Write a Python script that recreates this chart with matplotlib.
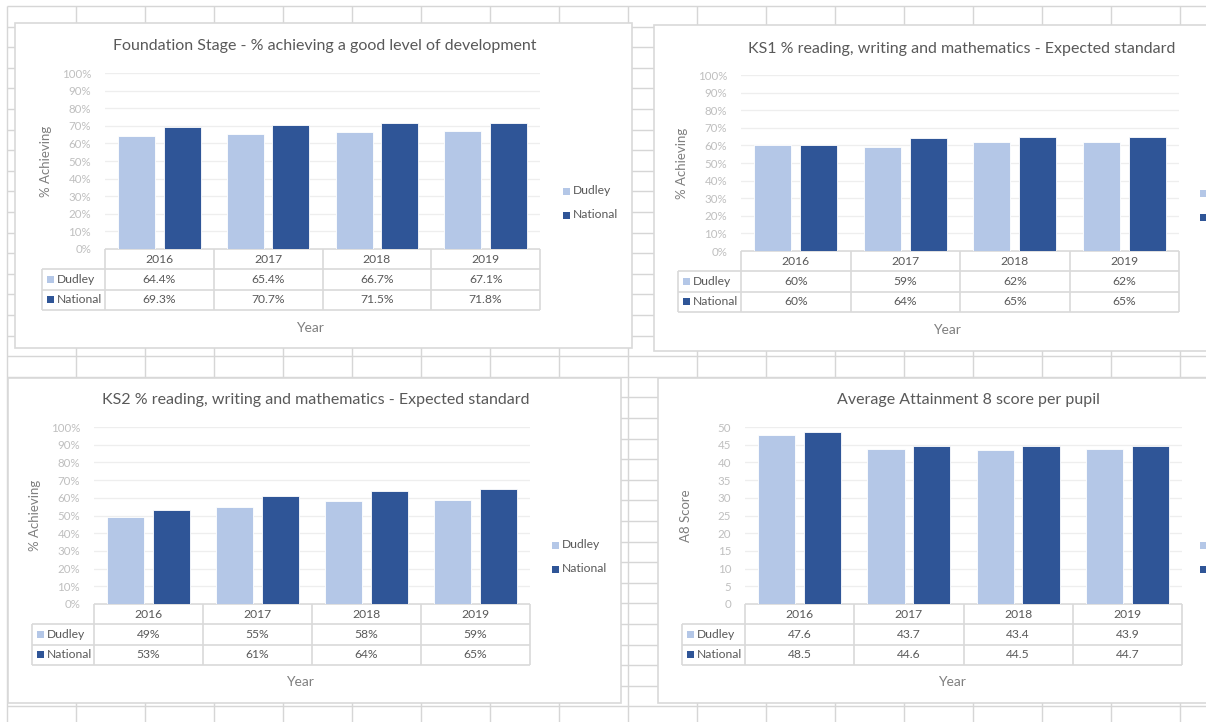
import numpy as np
import matplotlib.pyplot as plt
from matplotlib.patches import Rectangle
from matplotlib.ticker import FuncFormatter

plt.rcParams['font.family'] = ['Lato', 'DejaVu Sans']

years = ['2016', '2017', '2018', '2019']

fs_dudley = [64.4, 65.4, 66.7, 67.1]
fs_national = [69.3, 70.7, 71.5, 71.8]
ks1_dudley = [60, 59, 62, 62]
ks1_national = [60, 64, 65, 65]
ks2_dudley = [49, 55, 58, 59]
ks2_national = [53, 61, 64, 65]
a8_dudley = [47.6, 43.7, 43.4, 43.9]
a8_national = [48.5, 44.6, 44.5, 44.7]

LIGHT = '#b4c7e7'
DARK = '#2f5597'
CELL = '#d6d6d6'
BORDER = '#d9d9d9'
W, H = 1206, 722

fig = plt.figure(figsize=(W / 100, H / 100), dpi=100)
bg = fig.add_axes([0, 0, 1, 1])
bg.set_xlim(0, W)
bg.set_ylim(H, 0)
bg.axis('off')

# spreadsheet cells behind the charts
bg.vlines(np.arange(7, W, 69), 6, H, color=CELL, lw=1, zorder=1)
bg.hlines(np.arange(6, H, 20.6), 7, W, color=CELL, lw=1, zorder=1)


def chart(box, plot, tab_left, title, title_xy, ylabel, ylabel_x, year_xy,
          leg, ymax, ystep, tickfmt, valfmt, dud, nat):
    x0, y0, x1, y1 = box
    bg.add_patch(Rectangle((x0, y0), x1 - x0, y1 - y0, fc='white', ec=BORDER,
                           lw=1.2, zorder=2))
    px0, py0, px1, py1 = plot

    ax = fig.add_axes([px0 / W, 1 - py1 / H, (px1 - px0) / W, (py1 - py0) / H])
    ax.set_zorder(3)
    ax.patch.set_alpha(0)
    idx = np.arange(len(years))
    ax.bar(idx - 0.21, dud, 0.34, color=LIGHT, ec='white', lw=0.6, zorder=3)
    ax.bar(idx + 0.21, nat, 0.34, color=DARK, ec='white', lw=0.6, zorder=3)
    ax.set_xlim(-0.5, 3.5)
    ax.set_ylim(0, ymax)
    ax.set_yticks(np.arange(0, ymax + ystep / 2, ystep))
    ax.yaxis.set_major_formatter(FuncFormatter(tickfmt))
    ax.set_xticks([])
    ax.tick_params(length=0, labelsize=8.3, labelcolor='#bfbfbf', pad=10)
    ax.grid(axis='y', color='#eeeeee', lw=0.9, zorder=0)
    for s in ax.spines.values():
        s.set_visible(False)

    # data table under the plot
    rows = [py1, py1 + 20.3, py1 + 40.6, py1 + 61]
    cols = np.linspace(px0, px1, len(years) + 1)
    kw = dict(color=BORDER, lw=1.2, zorder=4)
    bg.hlines(rows[0], px0, px1, **kw)
    bg.hlines(rows[1:], tab_left, px1, **kw)
    bg.vlines(tab_left, rows[1], rows[3], **kw)
    bg.vlines(cols, rows[0], rows[3], **kw)
    tk = dict(ha='center', va='center', fontsize=8.7, color='#595959', zorder=5)
    for i, yr in enumerate(years):
        cx = (cols[i] + cols[i + 1]) / 2
        bg.text(cx, (rows[0] + rows[1]) / 2, yr, **tk)
        bg.text(cx, (rows[1] + rows[2]) / 2, valfmt(dud[i]), **tk)
        bg.text(cx, (rows[2] + rows[3]) / 2, valfmt(nat[i]), **tk)
    for r, (name, c) in enumerate([('Dudley', LIGHT), ('National', DARK)]):
        ym = (rows[r + 1] + rows[r + 2]) / 2
        bg.add_patch(Rectangle((tab_left + 5, ym - 3.5), 7, 7, fc=c, ec='none', zorder=5))
        bg.text(tab_left + 15, ym, name, ha='left', va='center', fontsize=8.7,
                color='#595959', zorder=5)

    # legend (the right-hand charts run past the window edge, only squares show)
    lx, ly1, ly2 = leg
    for name, c, ly in [('Dudley', LIGHT, ly1), ('National', DARK, ly2)]:
        bg.add_patch(Rectangle((lx, ly - 3.5), 7, 7, fc=c, ec='none', zorder=5))
        if lx + 10 < W:
            bg.text(lx + 10, ly, name, ha='left', va='center', fontsize=8.7,
                    color='#595959', zorder=5)

    bg.text(title_xy[0], title_xy[1], title, ha='center', va='center',
            fontsize=11.5, color='#595959', zorder=5)
    bg.text(ylabel_x, (py0 + py1) / 2, ylabel, rotation=90, ha='center',
            va='center', fontsize=9.5, color='#7f7f7f', zorder=5)
    bg.text(year_xy[0], year_xy[1], 'Year', ha='center', va='center',
            fontsize=10, color='#7f7f7f', zorder=5)


pct = lambda v, p: '%d%%' % v
num = lambda v, p: '%d' % v

chart((15, 23, 632, 348), (105, 73, 540, 249), 42,
      'Foundation Stage - % achieving a good level of development', (325, 46),
      '% Achieving', 46, (310, 328), (563, 191, 215), 100, 10, pct,
      lambda v: '%.1f%%' % v, fs_dudley, fs_national)

chart((654, 25, 1230, 351), (741, 75, 1179, 251), 678,
      'KS1 % reading, writing and mathematics - Expected standard', (962, 49),
      '% Achieving', 682, (947, 330), (1200, 193, 217), 100, 10, pct,
      lambda v: '%d%%' % v, ks1_dudley, ks1_national)

chart((8, 378, 621, 703), (94, 427, 530, 604), 32,
      'KS2 % reading, writing and mathematics - Expected standard', (316, 400),
      '% Achieving', 35, (300, 682), (552, 545, 569), 100, 10, pct,
      lambda v: '%d%%' % v, ks2_dudley, ks2_national)

chart((658, 378, 1230, 703), (745, 427, 1182, 604), 682,
      'Average Attainment 8 score per pupil', (968, 400),
      'A8 Score', 686, (952, 682), (1200, 545, 569), 50, 5, num,
      lambda v: '%.1f' % v, a8_dudley, a8_national)

fig.savefig('out.png', dpi=100)
